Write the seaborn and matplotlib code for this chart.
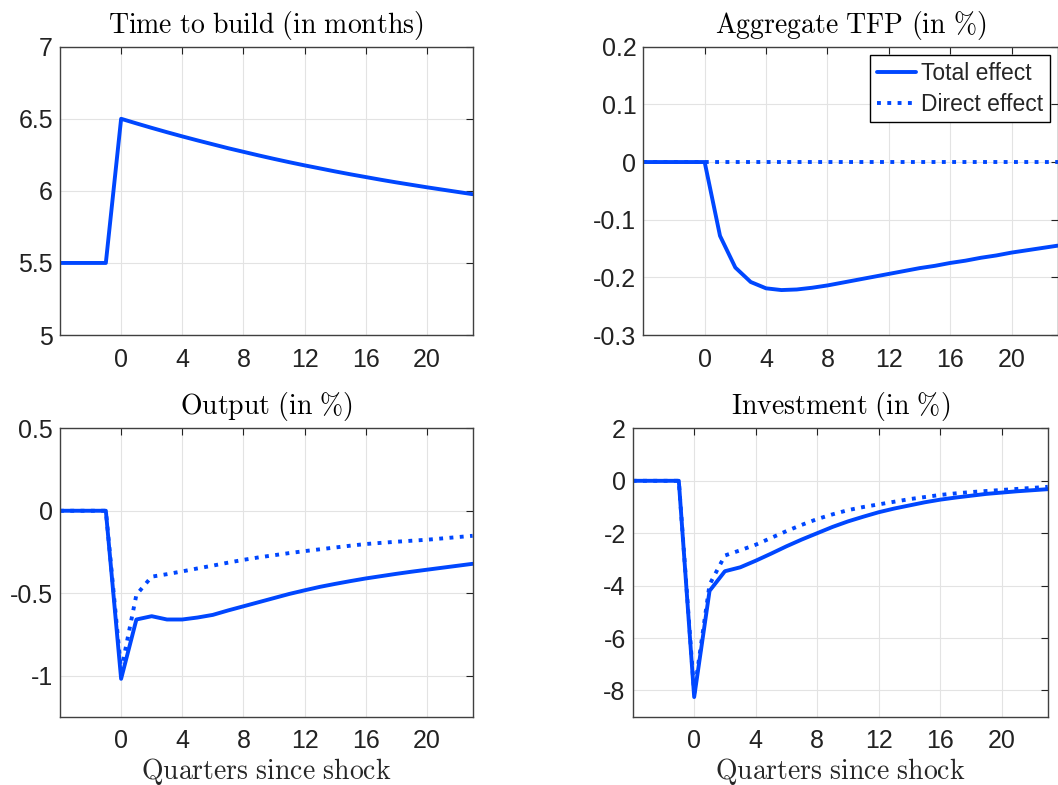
import numpy as np
import pandas as pd
import matplotlib
matplotlib.use("Agg")
import matplotlib.pyplot as plt
import seaborn as sns

sns.set_style("whitegrid")
plt.rcParams["font.family"] = ["Liberation Sans", "DejaVu Sans"]
plt.rcParams["mathtext.fontset"] = "cm"
plt.rcParams["axes.unicode_minus"] = False

BLUE = "#0047ff"

quarters = list(range(-4, 24))

time_to_build = [5.5, 5.5, 5.5, 5.5,
                 6.5, 6.468, 6.437, 6.407, 6.378, 6.350, 6.323, 6.296, 6.271, 6.246,
                 6.222, 6.199, 6.177, 6.156, 6.135, 6.115, 6.096, 6.077, 6.059, 6.042,
                 6.025, 6.009, 5.993, 5.977]

tfp_total = [0, 0, 0, 0,
             0, -0.128, -0.183, -0.208, -0.219, -0.222, -0.221, -0.218, -0.214, -0.209,
             -0.204, -0.199, -0.194, -0.189, -0.184, -0.180, -0.175, -0.171, -0.166, -0.162,
             -0.157, -0.153, -0.149, -0.145]
tfp_direct = [0] * 28

output_total = [0, 0, 0, 0,
                -1.02, -0.66, -0.64, -0.66, -0.66, -0.648, -0.632, -0.605, -0.58, -0.555,
                -0.53, -0.505, -0.483, -0.462, -0.444, -0.427, -0.411, -0.397, -0.383, -0.370,
                -0.358, -0.346, -0.334, -0.322]
output_direct = [0, 0, 0, 0,
                 -0.97, -0.51, -0.40, -0.385, -0.368, -0.35, -0.333, -0.315, -0.298, -0.283,
                 -0.27, -0.257, -0.245, -0.234, -0.223, -0.212, -0.202, -0.195, -0.188, -0.182,
                 -0.176, -0.168, -0.16, -0.152]

invest_total = [0, 0, 0, 0,
                -8.25, -4.2, -3.45, -3.3, -3.05, -2.78, -2.5, -2.24, -2.0, -1.76,
                -1.55, -1.37, -1.2, -1.06, -0.94, -0.82, -0.72, -0.64, -0.57, -0.5,
                -0.45, -0.4, -0.36, -0.32]
invest_direct = [0, 0, 0, 0,
                 -8.1, -3.96, -2.85, -2.65, -2.44, -2.18, -1.92, -1.68, -1.46, -1.28,
                 -1.12, -1.0, -0.9, -0.8, -0.7, -0.62, -0.54, -0.48, -0.43, -0.39,
                 -0.35, -0.31, -0.27, -0.23]

x_ticks = [0, 4, 8, 12, 16, 20]

panels = [
    (r"$\mathrm{Time\ to\ build\ (in\ months)}$", time_to_build, None,
     (5, 7), [5, 5.5, 6, 6.5, 7], ["5", "5.5", "6", "6.5", "7"],
     [0.0567, 0.5732, 0.390, 0.3673], False),
    (r"$\mathrm{Aggregate\ TFP\ (in\ \%)}$", tfp_total, tfp_direct,
     (-0.3, 0.2), [-0.3, -0.2, -0.1, 0, 0.1, 0.2], ["-0.3", "-0.2", "-0.1", "0", "0.1", "0.2"],
     [0.608, 0.5732, 0.3917, 0.3673], False),
    (r"$\mathrm{Output\ (in\ \%)}$", output_total, output_direct,
     (-1.25, 0.5), [-1, -0.5, 0, 0.5], ["-1", "-0.5", "0", "0.5"],
     [0.0567, 0.087, 0.390, 0.3673], True),
    (r"$\mathrm{Investment\ (in\ \%)}$", invest_total, invest_direct,
     (-9, 2), [-8, -6, -4, -2, 0, 2], ["-8", "-6", "-4", "-2", "0", "2"],
     [0.598, 0.087, 0.3923, 0.3673], True),
]

fig = plt.figure(figsize=(10.58, 7.85), dpi=100)

for i, (title, total, direct, ylim, yticks, ylabels, pos, show_xlabel) in enumerate(panels):
    ax = fig.add_axes(pos)
    sns.lineplot(x=quarters, y=total, ax=ax, color=BLUE, linewidth=2.8,
                 label="Total effect")
    if direct is not None:
        sns.lineplot(x=quarters, y=direct, ax=ax, color=BLUE, linewidth=2.8,
                     linestyle=":", label="Direct effect")
    ax.set_xlim(-4, 23)
    ax.set_ylim(*ylim)
    ax.set_xticks(x_ticks)
    ax.set_xticklabels([str(t) for t in x_ticks])
    ax.set_yticks(yticks)
    ax.set_yticklabels(ylabels)
    ax.tick_params(direction="in", length=5, width=0.8, top=True, right=True,
                   labelsize=18, colors="#222222")
    ax.tick_params(axis="x", pad=9)
    ax.tick_params(axis="y", pad=5)
    ax.grid(True, color="#e3e3e3", linewidth=0.8)
    for sp in ax.spines.values():
        sp.set_color("#404040")
        sp.set_linewidth(1.0)
    ax.set_title(title, fontsize=20, pad=10, color="black")
    if show_xlabel:
        ax.set_xlabel(r"$\mathrm{Quarters\ since\ shock}$", fontsize=20, labelpad=2)
    if i == 1:
        leg = ax.legend(loc="upper right", fontsize=16.5, frameon=True, fancybox=False,
                        framealpha=1, edgecolor="black", borderaxespad=0.35,
                        handlelength=1.7, handletextpad=0.2, borderpad=0.3,
                        labelspacing=0.35)
        leg.get_frame().set_linewidth(1.0)
    else:
        ax.get_legend().remove()

fig.savefig("out.png", dpi=100)
